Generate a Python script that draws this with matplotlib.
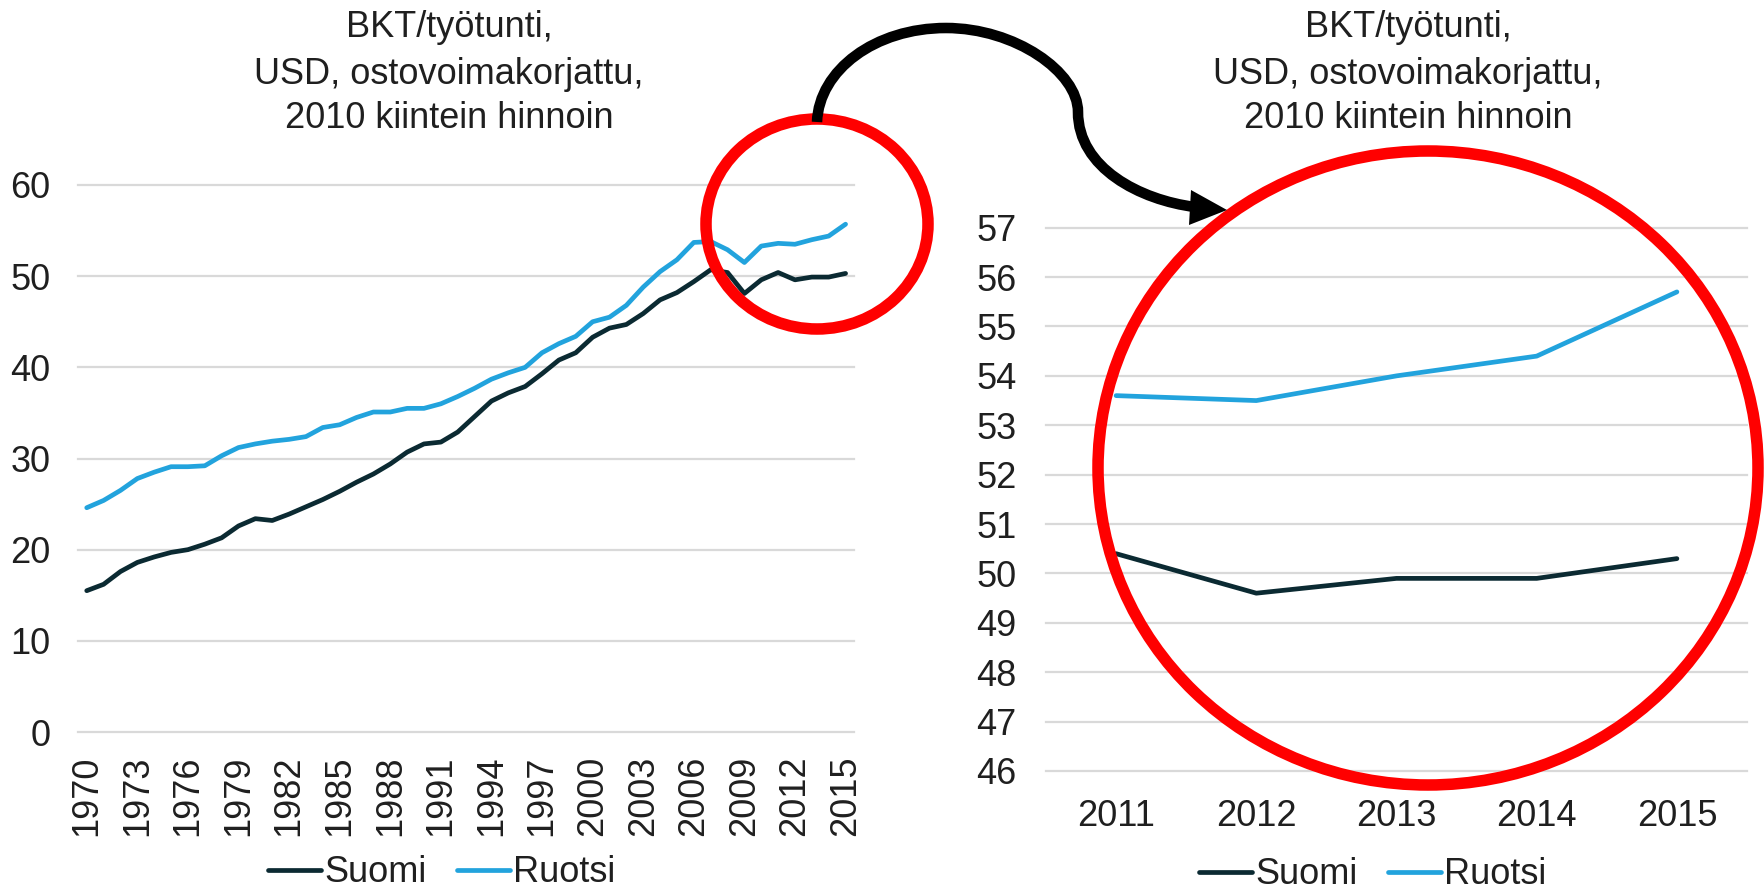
import matplotlib
matplotlib.use("Agg")
import matplotlib.pyplot as plt
from matplotlib.patches import Ellipse, PathPatch, Polygon
from matplotlib.path import Path

plt.rcParams['font.family'] = ['Liberation Sans', 'DejaVu Sans']

# ---------------- data ----------------
years = list(range(1970, 2016))
suomi = [15.5, 16.2, 17.6, 18.6, 19.2, 19.7, 20.0, 20.6, 21.3, 22.6,
         23.4, 23.2, 23.9, 24.7, 25.5, 26.4, 27.4, 28.3, 29.4, 30.7,
         31.6, 31.8, 32.9, 34.6, 36.3, 37.2, 37.9, 39.3, 40.8, 41.6,
         43.3, 44.3, 44.7, 45.9, 47.4, 48.2, 49.4, 50.7, 50.4, 48.1,
         49.6, 50.4, 49.6, 49.9, 49.9, 50.3]
ruotsi = [24.6, 25.4, 26.5, 27.8, 28.5, 29.1, 29.1, 29.2, 30.3, 31.2,
          31.6, 31.9, 32.1, 32.4, 33.4, 33.7, 34.5, 35.1, 35.1, 35.5,
          35.5, 36.0, 36.8, 37.7, 38.7, 39.4, 40.0, 41.6, 42.6, 43.4,
          45.0, 45.5, 46.8, 48.8, 50.5, 51.8, 53.7, 53.8, 52.9, 51.5,
          53.3, 53.6, 53.5, 54.0, 54.4, 55.7]
left_tick_years = years[::3]

zoom_years = ['2011', '2012', '2013', '2014', '2015']
zoom_suomi = [50.4, 49.6, 49.9, 49.9, 50.3]
zoom_ruotsi = [53.6, 53.5, 54.0, 54.4, 55.7]
zoom_yticks = list(range(46, 58))

title_lines = ['BKT/työtunti,', 'USD, ostovoimakorjattu,', '2010 kiintein hinnoin']
series_names = ['Suomi', 'Ruotsi']

# ---------------- style ----------------
W, H = 1764, 892
C_SUOMI = '#0b2a32'
C_RUOTSI = '#22a3dd'
C_GRID = '#d9d9d9'
C_TEXT = '#1f1f1f'
FS = 26
LW = 3.4

fig = plt.figure(figsize=(W / 100, H / 100), dpi=100)

def px_axes(x0, x1, ytop, ybot):
    return fig.add_axes([x0 / W, 1 - ybot / H, (x1 - x0) / W, (ybot - ytop) / H])

def style(ax):
    for s in ax.spines.values():
        s.set_visible(False)
    ax.yaxis.grid(True, color=C_GRID, lw=1.6)
    ax.set_axisbelow(True)
    ax.tick_params(length=0, labelsize=FS, colors=C_TEXT)
    for gl in ax.get_ygridlines():
        gl.set_clip_on(False)

leg_kw = dict(loc='center', ncol=2, frameon=False, fontsize=FS, handlelength=1.45,
              handletextpad=0.1, columnspacing=0.85, labelcolor=C_TEXT,
              bbox_transform=fig.transFigure)

# ---- left chart ----
ax1 = px_axes(78.3, 854, 185, 732)
style(ax1)
xpos = list(range(len(years)))
l1, = ax1.plot(xpos, suomi, color=C_SUOMI, lw=LW, solid_capstyle='round', solid_joinstyle='round')
l2, = ax1.plot(xpos, ruotsi, color=C_RUOTSI, lw=LW, solid_capstyle='round', solid_joinstyle='round')
ax1.set_xlim(-0.5, len(years) - 0.5)
ax1.set_ylim(0, 60)
ax1.set_yticks(range(0, 61, 10))
ax1.set_xticks([years.index(y) for y in left_tick_years])
ax1.set_xticklabels([str(y) for y in left_tick_years], rotation=90)
ax1.tick_params(axis='y', pad=20)
ax1.tick_params(axis='x', pad=17)
ax1.legend([l1, l2], series_names, bbox_to_anchor=(442 / W, 1 - 873 / H), **leg_kw)

# ---- right chart ----
ax2 = px_axes(1046, 1747, 227.7, 771)
style(ax2)
zpos = list(range(len(zoom_years)))
r1, = ax2.plot(zpos, zoom_suomi, color=C_SUOMI, lw=LW, solid_capstyle='round', solid_joinstyle='round')
r2, = ax2.plot(zpos, zoom_ruotsi, color=C_RUOTSI, lw=LW, solid_capstyle='round', solid_joinstyle='round')
ax2.set_xlim(-0.5, len(zoom_years) - 0.5)
ax2.set_ylim(46, 57)
ax2.set_yticks(zoom_yticks)
ax2.set_xticks(zpos)
ax2.set_xticklabels(zoom_years)
ax2.tick_params(axis='y', pad=21)
ax2.tick_params(axis='x', pad=20)
ax2.legend([r1, r2], series_names, bbox_to_anchor=(1373 / W, 1 - 875 / H), **leg_kw)

# ---- overlay (pixel coordinates, y down) ----
ov = fig.add_axes([0, 0, 1, 1])
ov.set_xlim(0, W)
ov.set_ylim(H, 0)
ov.axis('off')
ov.patch.set_alpha(0)

for cx in (449, 1408):
    for line, by in zip(title_lines, (37, 84, 128)):
        ov.text(cx, by, line, ha='center', va='baseline', fontsize=FS, color=C_TEXT)

ov.add_patch(Ellipse((817, 224), 222, 210, fill=False, ec='#ff0000', lw=8.3))
ov.add_patch(Ellipse((1428, 468), 660, 634, fill=False, ec='#ff0000', lw=8.3))

verts = [(817, 122),
         (819, 70), (875, 28), (946, 28),
         (1015, 28), (1078, 72), (1078, 112),
         (1078, 168), (1140, 200), (1195, 207)]
codes = [Path.MOVETO] + [Path.CURVE4] * 9
ov.add_patch(PathPatch(Path(verts, codes), fill=False, ec='black', lw=7.6, capstyle='butt'))
ov.add_patch(Polygon([(1191, 190), (1189, 225), (1227, 210)], closed=True, fc='black', ec='none'))

fig.savefig('out.png', dpi=100)
